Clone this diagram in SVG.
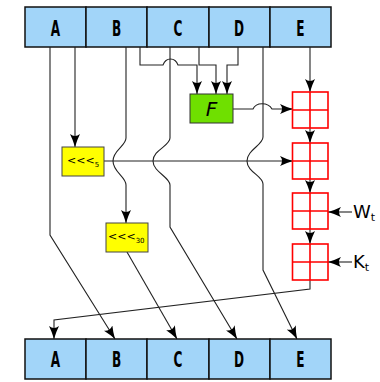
<svg xmlns="http://www.w3.org/2000/svg" width="380" height="382" viewBox="0 0 380 382">
<style>
.reg{fill:#a2d5f9;stroke:#111;stroke-width:1.5}
.lbl{font-family:"DejaVu Sans",sans-serif;font-weight:bold;font-size:22px;fill:#000;text-anchor:middle}
.ln{fill:none;stroke:#222;stroke-width:1.1}
.red{fill:#fff;stroke:#f00;stroke-width:1.6}
.redl{fill:none;stroke:#f00;stroke-width:1.6}
.yel{fill:#ffff00;stroke:#444;stroke-width:1}
.rot{font-family:"DejaVu Sans",sans-serif;font-size:11px;fill:#000}
.sub{font-family:"DejaVu Sans",sans-serif;font-size:7px;fill:#000}
.wk{font-family:"DejaVu Sans",sans-serif;font-size:18px;fill:#000}
.wks{font-family:"DejaVu Sans",sans-serif;font-size:11px;fill:#000}
</style>
<defs>
<marker id="ah" viewBox="0 0 13 10" refX="13" refY="5" markerWidth="13" markerHeight="10" markerUnits="userSpaceOnUse" orient="auto">
<path d="M0,0 Q6,3 13,5 Q6,7 0,10 Q4,5 0,0 Z" fill="#000"/>
</marker>
</defs>
<g id="top-register">
<rect class="reg" x="25" y="7" width="61" height="40"/>
<rect class="reg" x="86" y="7" width="61" height="40"/>
<rect class="reg" x="147" y="7" width="62" height="40"/>
<rect class="reg" x="209" y="7" width="61" height="40"/>
<rect class="reg" x="270" y="7" width="61" height="40"/>
<text class="lbl" transform="translate(55.5,36) scale(0.55,1)">A</text>
<text class="lbl" transform="translate(116.5,36) scale(0.55,1)">B</text>
<text class="lbl" transform="translate(178,36) scale(0.55,1)">C</text>
<text class="lbl" transform="translate(239,36) scale(0.55,1)">D</text>
<text class="lbl" transform="translate(300.5,36) scale(0.55,1)">E</text>
</g>
<g id="bottom-register">
<rect class="reg" x="25" y="339" width="61" height="40"/>
<rect class="reg" x="86" y="339" width="61" height="40"/>
<rect class="reg" x="147" y="339" width="62" height="40"/>
<rect class="reg" x="209" y="339" width="61" height="40"/>
<rect class="reg" x="270" y="339" width="61" height="40"/>
<text class="lbl" transform="translate(55.5,367) scale(0.55,1)">A</text>
<text class="lbl" transform="translate(116.5,367) scale(0.55,1)">B</text>
<text class="lbl" transform="translate(178,367) scale(0.55,1)">C</text>
<text class="lbl" transform="translate(239,367) scale(0.55,1)">D</text>
<text class="lbl" transform="translate(300.5,367) scale(0.55,1)">E</text>
</g>
<g id="connectors">
<path class="ln" d="M50,47 V235 L115,339" marker-end="url(#ah)"/>
<path class="ln" d="M75,47 V147" marker-end="url(#ah)"/>
<path class="ln" d="M126,47 V138 C126,146 113,150 113,161 C113,172 126,177 126,185 V223" marker-end="url(#ah)"/>
<path class="ln" d="M140,47 V65 H163 C166,57 175,57 178,65 H197 V94" marker-end="url(#ah)"/>
<path class="ln" d="M170,47 V138 C170,146 153,150 153,161 C153,172 170,177 170,185 V227 L237,339" marker-end="url(#ah)"/>
<path class="ln" d="M199,47 V65 H216 V94" marker-end="url(#ah)"/>
<path class="ln" d="M238,47 V65 H227 V94" marker-end="url(#ah)"/>
<path class="ln" d="M263,47 V137 C263,145 247,150 247,161 C247,172 263,176 263,184 V270 L297,339" marker-end="url(#ah)"/>
<path class="ln" d="M310,47 V92" marker-end="url(#ah)"/>
<path class="ln" d="M233,109 H253 C256,102 268,102 272,109 H293" marker-end="url(#ah)"/>
<path class="ln" d="M104,161 H293" marker-end="url(#ah)"/>
<path class="ln" d="M127,252 L177,339" marker-end="url(#ah)"/>
<path class="ln" d="M310,128 V143" marker-end="url(#ah)"/>
<path class="ln" d="M310,179 V193" marker-end="url(#ah)"/>
<path class="ln" d="M310,229 V244" marker-end="url(#ah)"/>
<path class="ln" d="M352,212 H328" marker-end="url(#ah)"/>
<path class="ln" d="M352,262 H328" marker-end="url(#ah)"/>
<path class="ln" d="M310,280 V289 L54,320 V339" marker-end="url(#ah)"/>
</g>
<g id="F">
<rect x="190" y="94" width="43" height="29" fill="#6fe000" stroke="#333" stroke-width="1"/>
<text x="211.5" y="116" font-family="DejaVu Sans,sans-serif" font-style="italic" font-size="20" text-anchor="middle">F</text>
</g>
<g id="rot5">
<rect class="yel" x="62" y="147" width="42" height="29"/>
<text class="rot" x="67" y="164">&lt;&lt;&lt;<tspan class="sub" dy="3">5</tspan></text>
</g>
<g id="rot30">
<rect class="yel" x="106" y="223" width="42" height="29"/>
<text class="rot" x="108" y="240">&lt;&lt;&lt;<tspan class="sub" dy="3">30</tspan></text>
</g>
<g id="add1">
<rect class="red" x="292.5" y="92" width="35.5" height="36"/>
<path class="redl" d="M310,92 V128 M292.5,110 H328"/>
</g>
<g id="add2">
<rect class="red" x="292.5" y="143" width="35.5" height="36"/>
<path class="redl" d="M310,143 V179 M292.5,161 H328"/>
</g>
<g id="add3">
<rect class="red" x="292.5" y="193" width="35.5" height="36"/>
<path class="redl" d="M310,193 V229 M292.5,211 H328"/>
</g>
<g id="add4">
<rect class="red" x="292.5" y="244" width="35.5" height="36"/>
<path class="redl" d="M310,244 V280 M292.5,262 H328"/>
</g>
<g id="Wt">
<text class="wk" x="353" y="218">W<tspan class="wks" dy="3">t</tspan></text>
</g>
<g id="Kt">
<text class="wk" x="353" y="268">K<tspan class="wks" dy="3">t</tspan></text>
</g>
</svg>
